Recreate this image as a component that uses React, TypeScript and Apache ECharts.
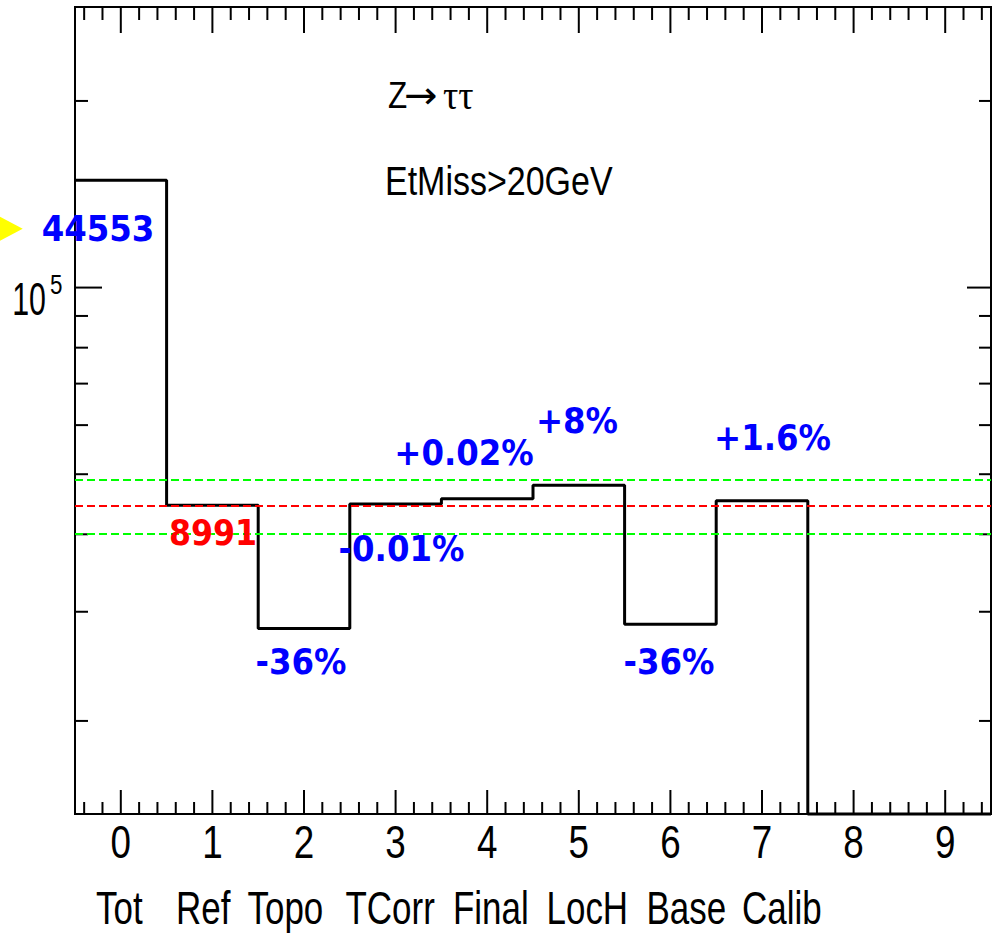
import React, { useEffect, useRef } from 'react';
import * as echarts from 'echarts';

// ---- data ----
const binCenters = [0, 1, 2, 3, 4, 5, 6, 7, 8, 9];
const binValues = [149000, 44553, 28200, 44760, 45630, 47970, 28630, 45300, 0, 0];
const xTickLabels = ['0', '1', '2', '3', '4', '5', '6', '7', '8', '9'];
const stepNames = ['Tot', 'Ref', 'Topo', 'TCorr', 'Final', 'LocH', 'Base', 'Calib'];
const refValue = 44553;
const bandValues = [49008, 40098];
const refText = '44553';
const refBinText = '8991';
const changeTexts = ['-36%', '-0.01%', '+0.02%', '+8%', '-36%', '+1.6%'];
const yTickValues = [20000, 30000, 40000, 50000, 60000, 70000, 80000, 90000, 100000, 200000];
const titleParts = ['Z', '\u2192', '\u03c4\u03c4'];
const cutText = 'EtMiss>20GeV';

const X_MIN = -0.5;
const X_MAX = 9.5;
const Y_MIN = 14155;
const Y_MAX = 283500;

// ---- layout / style ----
const ROOT_FONT = "'Liberation Sans', Arial, Helvetica, sans-serif";
const SYM_FONT = "'DejaVu Sans', sans-serif";
const GREEK_FONT = "'Liberation Serif', 'Times New Roman', serif";
const ANN_FONT = "'DejaVu Sans', Verdana, sans-serif";
const stepNameX = [96, 176, 247.5, 345.5, 453, 546.5, 646.5, 742];
const changePos = [
  [301, 661],
  [401.5, 548],
  [464, 452],
  [577, 420],
  [669, 661],
  [772.5, 437],
];

function txt(x: number, y: number, text: string, fill: string, fontSize: number, fontFamily: string, align: string, scaleX: number, bold = false) {
  return {
    type: 'text', x, y, scaleX, z: 10,
    style: {
      text, fill, fontSize, fontFamily, fontWeight: bold ? 'bold' : 'normal',
      align, verticalAlign: 'middle', textAlign: align, textVerticalAlign: 'middle',
    },
  };
}

function buildOption() {
  const histData: number[][] = binValues.map((v, i) => [binCenters[i] - 0.5, Math.max(v, Y_MIN)]);
  const last = binValues.length - 1;
  histData.push([binCenters[last] + 0.5, Math.max(binValues[last], Y_MIN)]);

  const xTickData: number[][] = [];
  for (let k = -2; k <= 47; k++) {
    const v = Math.round(k * 2) / 10;
    xTickData.push([v, Y_MIN, k % 5 === 0 ? 1 : 0]);
  }
  const yTickData = yTickValues.map((v) => [X_MIN, v, v === 100000 ? 1 : 0]);

  const stroke = { stroke: '#000', lineWidth: 2 };

  const graphicEls: any[] = [];
  graphicEls.push({
    type: 'polygon',
    shape: { points: [[-4, 214.6], [22.7, 228.7], [-4, 242.8]] },
    style: { fill: '#ffff00' },
    z: 10,
  });
  graphicEls.push(txt(98, 228.5, refText, '#0000ff', 36, ANN_FONT, 'center', 0.9, true));
  graphicEls.push(txt(213, 532.5, refBinText, '#ff0000', 36, ANN_FONT, 'center', 0.88, true));
  changeTexts.forEach((t, i) => {
    graphicEls.push(txt(changePos[i][0], changePos[i][1], t, '#0000ff', 36, ANN_FONT, 'center', 0.9, true));
  });
  graphicEls.push(txt(388, 95, titleParts[0], '#000', 37, ROOT_FONT, 'left', 0.85));
  graphicEls.push(txt(404, 95, titleParts[1], '#000', 38, SYM_FONT, 'left', 1.05));
  graphicEls.push(txt(443, 95, titleParts[2], '#000', 40, GREEK_FONT, 'left', 0.95));
  graphicEls.push(txt(385, 181, cutText, '#000', 40, ROOT_FONT, 'left', 0.85));
  stepNames.forEach((n, i) => {
    graphicEls.push(txt(stepNameX[i], 908, n, '#000', 46, ROOT_FONT, 'left', 0.76));
  });

  return {
    animation: false,
    backgroundColor: '#fff',
    grid: {
      left: 75, top: 7, width: 916, height: 807,
      show: true, borderColor: '#000', borderWidth: 2, backgroundColor: 'transparent',
    },
    xAxis: {
      type: 'value', min: X_MIN, max: X_MAX,
      axisLine: { show: false }, axisTick: { show: false }, axisLabel: { show: false }, splitLine: { show: false },
    },
    yAxis: {
      type: 'log', logBase: 10, min: Y_MIN, max: Y_MAX,
      axisLine: { show: false }, axisTick: { show: false }, axisLabel: { show: false }, splitLine: { show: false },
    },
    series: [
      {
        type: 'line',
        step: 'end',
        data: histData,
        symbol: 'none',
        clip: false,
        silent: true,
        lineStyle: { color: '#000', width: 3 },
        z: 3,
        markLine: {
          silent: true,
          symbol: ['none', 'none'],
          label: { show: false },
          z: 6,
          data: [
            { yAxis: bandValues[0], lineStyle: { color: '#00ff00', type: [8, 4], width: 2 } },
            { yAxis: refValue, lineStyle: { color: '#ff0000', type: [8, 4], width: 2 } },
            { yAxis: bandValues[1], lineStyle: { color: '#00ff00', type: [8, 4], width: 2 } },
          ],
        },
      },
      {
        type: 'custom',
        coordinateSystem: 'cartesian2d',
        silent: true,
        z: 4,
        data: xTickData,
        renderItem: (params: any, api: any) => {
          const v = api.value(0);
          const major = api.value(2) === 1;
          const p = api.coord([v, Y_MIN]);
          const cs = params.coordSys;
          const top = cs.y;
          const bottom = cs.y + cs.height;
          const children: any[] = [
            { type: 'line', shape: { x1: p[0], y1: bottom, x2: p[0], y2: bottom - (major ? 24 : 12) }, style: stroke },
            { type: 'line', shape: { x1: p[0], y1: top, x2: p[0], y2: top + (major ? 26 : 13) }, style: stroke },
          ];
          if (major) {
            children.push({
              type: 'text', x: p[0], y: bottom + 28, scaleX: 0.8,
              style: { text: xTickLabels[Math.round(v)], fill: '#000', fontSize: 46, fontFamily: ROOT_FONT, align: 'center', verticalAlign: 'middle' },
            });
          }
          return { type: 'group', children };
        },
      },
      {
        type: 'custom',
        coordinateSystem: 'cartesian2d',
        silent: true,
        z: 4,
        data: yTickData,
        renderItem: (params: any, api: any) => {
          const v = api.value(1);
          const major = api.value(2) === 1;
          const p = api.coord([X_MIN, v]);
          const cs = params.coordSys;
          const left = cs.x;
          const right = cs.x + cs.width;
          const children: any[] = [
            { type: 'line', shape: { x1: left, y1: p[1], x2: left + (major ? 27 : 13), y2: p[1] }, style: stroke },
            { type: 'line', shape: { x1: right - (major ? 24 : 12), y1: p[1], x2: right, y2: p[1] }, style: stroke },
          ];
          if (major) {
            const exp = Math.round(Math.log10(v));
            children.push({
              type: 'text', x: left - 29, y: p[1] + 11, scaleX: 0.66,
              style: { text: '10', fill: '#000', fontSize: 46, fontFamily: ROOT_FONT, align: 'right', verticalAlign: 'middle' },
            });
            children.push({
              type: 'text', x: left - 25, y: p[1] - 4, scaleX: 0.8,
              style: { text: String(exp), fill: '#000', fontSize: 28, fontFamily: ROOT_FONT, align: 'left', verticalAlign: 'middle' },
            });
          }
          return { type: 'group', children };
        },
      },
    ],
    graphic: { elements: graphicEls },
  };
}

export default function App() {
  const ref = useRef<HTMLDivElement>(null);
  useEffect(() => {
    if (!ref.current) return;
    const chart = echarts.init(ref.current, null, { renderer: 'svg' });
    chart.setOption(buildOption() as any);
    return () => chart.dispose();
  }, []);
  return (
    <div
      ref={ref}
      style={{ position: 'fixed', left: 0, top: 0, width: 993, height: 933, background: '#fff' }}
    />
  );
}
